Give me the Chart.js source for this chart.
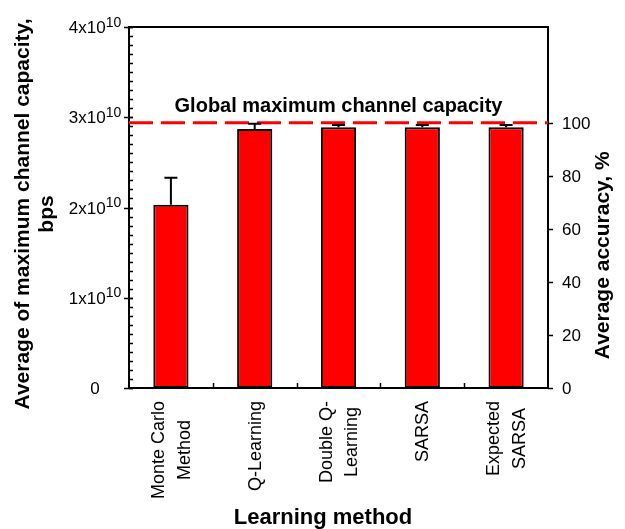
<!DOCTYPE html>
<html>
<head>
<meta charset="utf-8">
<script src="https://cdn.jsdelivr.net/npm/chart.js@4.4.1/dist/chart.umd.min.js"></script>
<style>
  html, body { margin: 0; padding: 0; background: #ffffff; }
  #wrap { width: 625px; height: 529px; }
</style>
</head>
<body>
<div id="wrap"><canvas id="chart" width="625" height="529"></canvas></div>
<script>
// Learning methods (multi-line category labels)
const methods = [["Monte Carlo", "Method"], ["Q-Learning"], ["Double Q-", "Learning"], ["SARSA"], ["Expected", "SARSA"]];
// Average of maximum channel capacity, bps
const capacity = [2.03e10, 2.87e10, 2.89e10, 2.89e10, 2.89e10];
// Upper error (bps)
const capacityErr = [0.30e10, 0.057e10, 0.025e10, 0.025e10, 0.025e10];
// Global maximum channel capacity (bps) = 100 % accuracy
const globalMax = 2.94e10;
// Left axis ticks
const capacityTicks = [0, 1e10, 2e10, 3e10, 4e10];
const capacityTickMantissa = ["0", "1x10", "2x10", "3x10", "4x10"];
const capacityTickExponent = ["", "10", "10", "10", "10"];
// Right axis ticks (%)
const accuracyTicks = [0, 20, 40, 60, 80, 100];

const FONT = '"Liberation Sans", Arial, Helvetica, sans-serif';

const decorations = {
  id: 'decorations',
  afterDatasetsDraw(chart) {
    const { ctx, chartArea: ca, scales } = chart;
    const y = scales.y;
    ctx.save();
    // global maximum reference line
    const gy = y.getPixelForValue(globalMax);
    ctx.strokeStyle = '#ff0000';
    ctx.lineWidth = 3;
    ctx.setLineDash([24, 8]);
    ctx.beginPath();
    ctx.moveTo(ca.left, gy);
    ctx.lineTo(ca.right, gy);
    ctx.stroke();
    ctx.setLineDash([]);
    ctx.fillStyle = '#000';
    ctx.font = 'bold 20px ' + FONT;
    ctx.textAlign = 'center';
    ctx.textBaseline = 'alphabetic';
    ctx.fillText('Global maximum channel capacity', (ca.left + ca.right) / 2, gy - 11);

    // upper error bars
    const meta = chart.getDatasetMeta(0);
    ctx.strokeStyle = '#000';
    ctx.lineWidth = 2;
    meta.data.forEach((bar, i) => {
      const top = y.getPixelForValue(capacity[i]);
      const hi = y.getPixelForValue(capacity[i] + capacityErr[i]);
      ctx.beginPath();
      ctx.moveTo(bar.x, top);
      ctx.lineTo(bar.x, hi);
      ctx.moveTo(bar.x - 6.5, hi);
      ctx.lineTo(bar.x + 6.5, hi);
      ctx.stroke();
    });
    ctx.restore();
  },
  afterDraw(chart) {
    const { ctx, chartArea: ca, scales } = chart;
    const x = scales.x, y = scales.y, y1 = scales.y1;
    ctx.save();
    ctx.strokeStyle = '#000';
    ctx.fillStyle = '#000';

    // top frame line
    ctx.lineWidth = 2;
    ctx.beginPath();
    ctx.moveTo(ca.left - 1, ca.top);
    ctx.lineTo(ca.right + 1, ca.top);
    ctx.stroke();

    // left axis: major and minor ticks
    ctx.lineWidth = 1.5;
    const step = capacityTicks[1] - capacityTicks[0];
    const minor = step / 10;
    for (let v = capacityTicks[0]; v <= capacityTicks[capacityTicks.length - 1] + 1; v += minor) {
      const py = Math.round(y.getPixelForValue(v)) + 0.5;
      ctx.beginPath();
      ctx.moveTo(ca.left, py);
      ctx.lineTo(ca.left + 4, py);
      ctx.stroke();
    }
    capacityTicks.forEach(v => {
      const py = Math.round(y.getPixelForValue(v)) + 0.5;
      ctx.beginPath();
      ctx.moveTo(ca.left - 5, py);
      ctx.lineTo(ca.left + 4, py);
      ctx.stroke();
    });

    // left axis labels with superscript exponent
    capacityTicks.forEach((v, i) => {
      const py = y.getPixelForValue(v);
      const base = capacityTickMantissa[i];
      const exp = capacityTickExponent[i];
      ctx.font = '17px ' + FONT;
      const wb = ctx.measureText(base).width;
      ctx.font = '14px ' + FONT;
      const we = exp ? ctx.measureText(exp).width : 0;
      const x0 = 95 - (wb + we) / 2;
      ctx.textAlign = 'left';
      ctx.textBaseline = 'alphabetic';
      ctx.font = '17px ' + FONT;
      ctx.fillText(base, x0, py + 6);
      if (exp) {
        ctx.font = '14px ' + FONT;
        ctx.fillText(exp, x0 + wb, py - 0.5);
      }
    });

    // right axis ticks and labels
    ctx.lineWidth = 1.5;
    ctx.font = '17px ' + FONT;
    ctx.textAlign = 'left';
    ctx.textBaseline = 'middle';
    accuracyTicks.forEach(v => {
      const py = Math.round(y1.getPixelForValue(v)) + 0.5;
      ctx.beginPath();
      ctx.moveTo(ca.right, py);
      ctx.lineTo(ca.right + 5, py);
      ctx.stroke();
      ctx.fillText(String(v), ca.right + 14, py + 1);
    });

    // x axis ticks between categories (pointing inward)
    for (let i = 1; i < methods.length; i++) {
      const px = Math.round((x.getPixelForValue(i - 1) + x.getPixelForValue(i)) / 2) + 0.5;
      ctx.beginPath();
      ctx.moveTo(px, ca.bottom);
      ctx.lineTo(px, ca.bottom - 5);
      ctx.stroke();
    }

    // x category labels, rotated, lines centred on each other
    ctx.font = '18px ' + FONT;
    ctx.textAlign = 'center';
    ctx.textBaseline = 'middle';
    methods.forEach((lines, i) => {
      const cx = x.getPixelForValue(i);
      const maxW = Math.max(...lines.map(s => ctx.measureText(s).width));
      const cy = ca.bottom + 13 + maxW / 2;
      lines.forEach((s, j) => {
        const lx = cx + 1 + (j - (lines.length - 1) / 2) * 25.5;
        ctx.save();
        ctx.translate(lx, cy);
        ctx.rotate(-Math.PI / 2);
        ctx.fillText(s, 0, 0);
        ctx.restore();
      });
    });

    // axis titles
    ctx.font = 'bold 22px ' + FONT;
    ctx.textAlign = 'center';
    ctx.textBaseline = 'alphabetic';
    ctx.fillText('Learning method', 323, 524);

    ctx.font = 'bold 21px ' + FONT;
    ctx.textBaseline = 'middle';
    const leftTitle = ['Average of maximum channel capacity,', 'bps'];
    const ltx = [23, 47];
    leftTitle.forEach((s, j) => {
      ctx.save();
      ctx.translate(ltx[j], 214);
      ctx.rotate(-Math.PI / 2);
      ctx.fillText(s, 0, 0);
      ctx.restore();
    });

    ctx.save();
    const ry = (y1.getPixelForValue(accuracyTicks[0]) + y1.getPixelForValue(accuracyTicks[accuracyTicks.length - 1])) / 2;
    ctx.translate(603, ry);
    ctx.rotate(-Math.PI / 2);
    ctx.fillText('Average accuracy, %', 0, 0);
    ctx.restore();

    ctx.restore();
  }
};

new Chart(document.getElementById('chart'), {
  type: 'bar',
  data: {
    labels: methods,
    datasets: [{
      label: 'Average of maximum channel capacity',
      data: capacity,
      backgroundColor: '#ff0000',
      borderColor: '#000000',
      borderWidth: 2,
      borderSkipped: false,
      categoryPercentage: 1.0,
      barPercentage: 0.42,
      yAxisID: 'y'
    }]
  },
  options: {
    responsive: false,
    animation: false,
    devicePixelRatio: 1,
    layout: { padding: { left: 129, right: 77, top: 27, bottom: 141 } },
    plugins: { legend: { display: false }, tooltip: { enabled: false } },
    scales: {
      x: {
        type: 'category',
        offset: true,
        grid: { display: false, drawTicks: false },
        border: { display: true, color: '#000', width: 2 },
        ticks: { display: false }
      },
      y: {
        type: 'linear',
        position: 'left',
        min: capacityTicks[0],
        max: capacityTicks[capacityTicks.length - 1],
        grid: { display: false, drawTicks: false },
        border: { display: true, color: '#000', width: 2 },
        ticks: { display: false }
      },
      y1: {
        type: 'linear',
        position: 'right',
        min: 0,
        max: 100 * capacityTicks[capacityTicks.length - 1] / globalMax,
        grid: { display: false, drawTicks: false },
        border: { display: true, color: '#000', width: 2 },
        ticks: { display: false }
      }
    }
  },
  plugins: [decorations]
});
</script>
</body>
</html>
